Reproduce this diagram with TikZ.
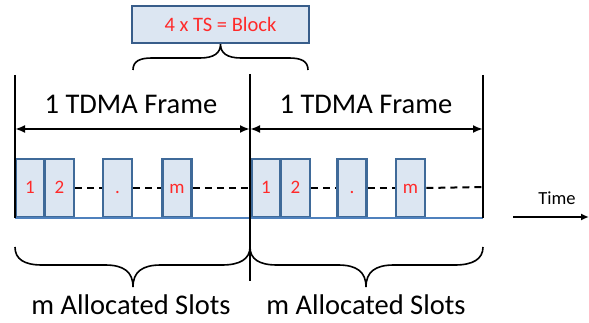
\documentclass[tikz,border=0pt]{standalone}
\usepackage{fontspec}
\setmainfont{Carlito}
\usetikzlibrary{arrows.meta}
\definecolor{slotfill}{HTML}{DCE6F2}
\definecolor{slotedge}{HTML}{3F6A99}
\definecolor{boxedge}{HTML}{385D8A}
\definecolor{baseblue}{HTML}{4F81BD}
\definecolor{labelred}{HTML}{FF2A2A}
\begin{document}
\begin{tikzpicture}[x=1pt,y=-1pt,
  slot/.style={draw=slotedge,fill=slotfill,line width=2.8pt,minimum width=29pt,
    minimum height=58pt,inner sep=0pt,text=labelred,font=\fontsize{19}{20}\selectfont,
    text height=12pt,text depth=0pt},
  blockbox/.style={draw=boxedge,fill=slotfill,line width=2.5pt,minimum width=177pt,
    minimum height=37pt,inner sep=0pt,text=labelred,font=\fontsize{20.5}{22}\selectfont},
  bigtxt/.style={font=\fontsize{28.5}{30}\selectfont,inner sep=0pt},
  timetxt/.style={font=\fontsize{18.5}{20}\selectfont,inner sep=0pt},
  framebar/.style={line width=1.6pt,black},
  span/.style={line width=2pt,{Latex[length=10pt,width=8pt]}-{Latex[length=10pt,width=8pt]}},
  gap/.style={line width=2pt,dash pattern=on 7pt off 5pt},
  curly/.style={line width=1.6pt,black}]
\useasboundingbox (0,0) rectangle (589,323);

% frame boundaries
\coordinate (b0t) at (15,75);   \coordinate (b0b) at (15,218);
\coordinate (b1t) at (250,74);  \coordinate (b1b) at (250,281);
\coordinate (b2t) at (483,75);  \coordinate (b2b) at (483,218);
\coordinate (b2d) at (483,187);

% frame length arrows
\coordinate (a0) at (15,129); \coordinate (a1) at (250,129); \coordinate (a2) at (483,129);
\draw[span] (a0) -- (a1);
\draw[span] (a1) -- (a2);
\node[bigtxt] (f1) at (131,104) {1 TDMA Frame};
\node[bigtxt] (f2) at (366,104) {1 TDMA Frame};

% time slots of both frames
\node[slot] (s11) at (30,188) {1};
\node[slot] (s12) at (59.5,188) {2};
\node[slot] (s1d) at (117.5,188) {.};
\node[slot] (s1m) at (177,188) {m};
\node[slot] (s21) at (266,188) {1};
\node[slot] (s22) at (295.5,188) {2};
\node[slot] (s2d) at (352,188) {.};
\node[slot] (s2m) at (410.5,188) {m};

% idle gaps between the slots
\draw[gap] (s12) -- (s1d);
\draw[gap] (s1d) -- (s1m);
\draw[gap] (s1m) -- (s21);
\draw[gap] (s22) -- (s2d);
\draw[gap] (s2d) -- (s2m);
\draw[gap] (s2m.east) -- (b2d);

% time axis of the frames
\draw[baseblue,line width=2.5pt] (b0b) -- (b2b);
\draw[framebar] (b0t) -- (b0b);
\draw[framebar] (b1t) -- (b1b);
\draw[framebar] (b2t) -- (b2b);

% block of four time slots
\node[blockbox] (blk) at (220.5,24.5) {4 x TS = Block};
\draw[curly] (133,70) .. controls (133,61) and (140,58) .. (152,58) -- (200,58)
  .. controls (214,58) and (220.5,53) .. (blk.south)
  .. controls (220.5,53) and (227,58) .. (241,58) -- (289,58)
  .. controls (301,58) and (308,61) .. (308,70);

% allocated slots per frame
\draw[curly] (15,247) .. controls (15,259) and (24,265) .. (42,265) -- (105,265)
  .. controls (124,265) and (133,272) .. (133,287)
  .. controls (133,272) and (142,265) .. (161,265) -- (222,265)
  .. controls (240,265) and (250,259) .. (250,247);
\draw[curly] (250,247) .. controls (250,259) and (259,265) .. (277,265) -- (338,265)
  .. controls (357,265) and (366,272) .. (366,287)
  .. controls (366,272) and (375,265) .. (394,265) -- (455,265)
  .. controls (473,265) and (483,259) .. (483,247);
\node[bigtxt] (m1) at (131,305) {m Allocated Slots};
\node[bigtxt] (m2) at (366,305) {m Allocated Slots};

% time direction
\node[timetxt] (tl) at (557,198) {Time};
\coordinate (t0) at (513,217); \coordinate (t1) at (589,217);
\draw[line width=1.6pt,-{Latex[length=8pt,width=7pt]}] (t0) -- (t1);
\end{tikzpicture}
\end{document}
